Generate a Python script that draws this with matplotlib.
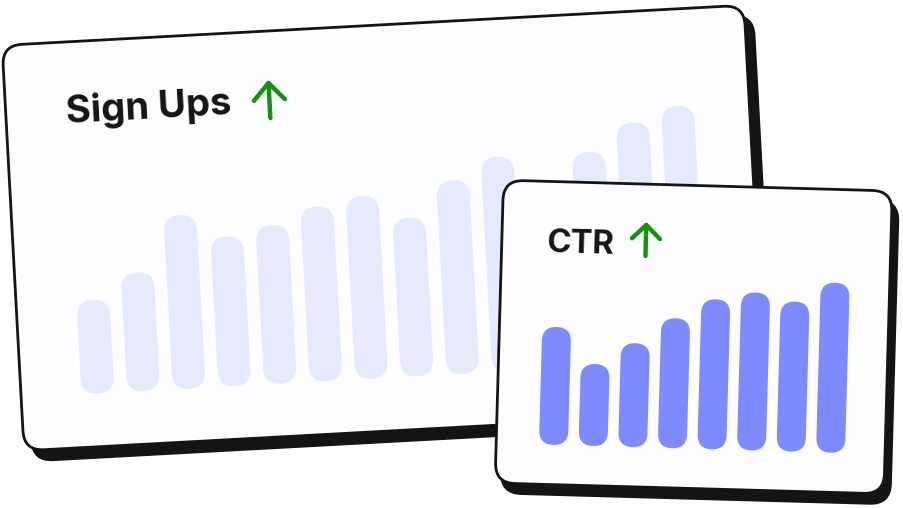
import matplotlib
matplotlib.use("Agg")
import matplotlib.pyplot as plt
from matplotlib.patches import FancyBboxPatch
from matplotlib.transforms import Affine2D

# bar heights (px); the 11th sign-up bar sits behind the CTR card
signup_values = [94, 119, 174, 150, 159, 175, 183, 159, 194, 215, 180, 215, 242, 256]
ctr_values = [118, 82, 104, 130, 150, 158, 150, 170]
titles = ["Sign Ups", "CTR"]

INK = "#141414"
GREEN = "#15900f"
LIGHT_BAR = "#e5ebfd"
BLUE_BAR = "#7f8afe"
CARD_FILL = "#fdfdff"

fig = plt.figure(figsize=(9.04, 5.08), dpi=100)
ax = fig.add_axes([0, 0, 1, 1])
ax.set_xlim(0, 904)
ax.set_ylim(508, 0)
ax.axis("off")


def card_transform(cx, cy, angle, dx=0, dy=0):
    return Affine2D().rotate_deg(angle).translate(cx + dx, cy + dy) + ax.transData


def draw_card(cx, cy, w, h, angle, z, shadow=(9, 10)):
    style = "round,pad=0,rounding_size=20"
    ax.add_patch(FancyBboxPatch((-w / 2, -h / 2), w, h, boxstyle=style,
                                fc=INK, ec=INK, lw=2,
                                transform=card_transform(cx, cy, angle, *shadow), zorder=z))
    ax.add_patch(FancyBboxPatch((-w / 2, -h / 2), w, h, boxstyle=style,
                                fc=CARD_FILL, ec=INK, lw=2,
                                transform=card_transform(cx, cy, angle), zorder=z + 0.1))
    return card_transform(cx, cy, angle)


def draw_bars(tr, values, u0, step, bottom, width, color, z):
    for i, val in enumerate(values):
        u = u0 + step * i
        ax.add_patch(FancyBboxPatch((u - width / 2, bottom - val), width, val,
                                    boxstyle="round,pad=0,rounding_size={0}".format(width / 2),
                                    fc=color, ec="none", transform=tr, zorder=z))


def draw_arrow(tr, u, tip, base, half, head, z):
    kw = dict(color=GREEN, lw=3.2, solid_capstyle="round", solid_joinstyle="round",
              transform=tr, zorder=z)
    ax.plot([u, u], [base, tip], **kw)
    ax.plot([u - half, u, u + half], [tip + head, tip, tip + head], **kw)


def draw_title(tr, u, v, text, size, angle, z):
    ax.text(u, v, text, transform=tr, rotation=-angle, rotation_mode="anchor",
            ha="left", va="baseline", fontsize=size, fontweight="bold",
            family=["Inter", "DejaVu Sans"], color=INK, zorder=z)


# big card
tr1 = draw_card(384, 228, 743, 406, -3.1, 1)
draw_bars(tr1, signup_values, -294.6, 45.7, 150, 33, LIGHT_BAR, 2)
draw_title(tr1, -311, -122, titles[0], 27.5, -3.1, 3)
draw_arrow(tr1, -107.5, -151, -116, 15.5, 17, 3)

# small card
tr2 = draw_card(693.7, 337, 389, 303, 1.6, 5, shadow=(6, 10))
draw_bars(tr2, ctr_values, -137.2, 39.6, 111.8, 29, BLUE_BAR, 6)
draw_title(tr2, -149.3, -80.6, titles[1], 23.5, 1.6, 7)
draw_arrow(tr2, -50.5, -110.6, -79.7, 14, 13.6, 7)

fig.savefig("out.png", dpi=100, facecolor="white")
